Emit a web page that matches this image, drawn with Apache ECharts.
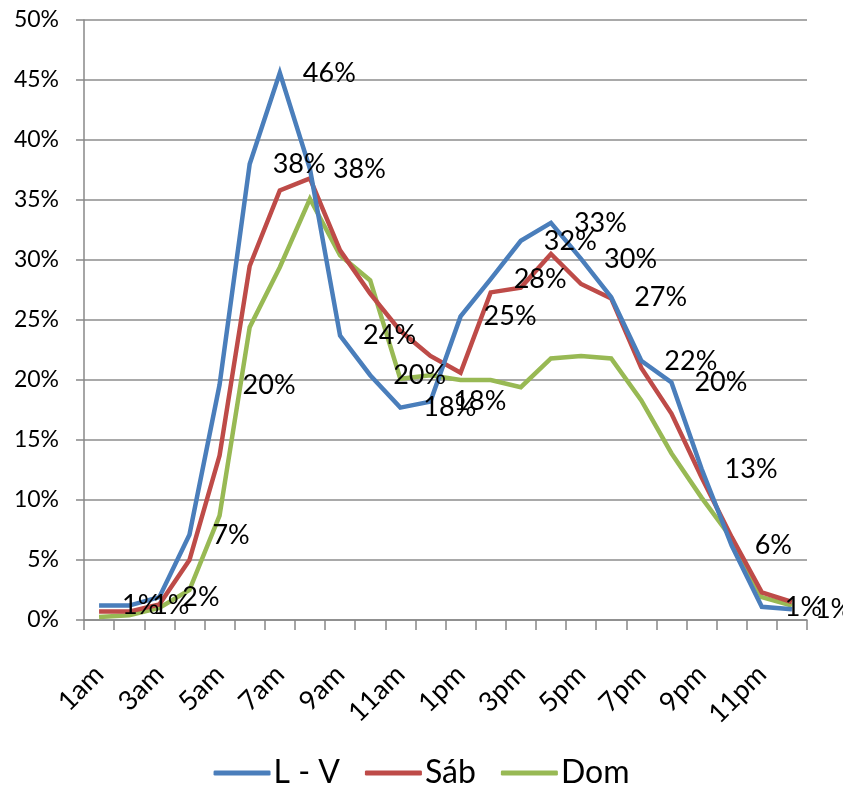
<!DOCTYPE html>
<html>
<head>
<meta charset="utf-8">
<script src="https://cdn.jsdelivr.net/npm/echarts@6/dist/echarts.min.js"></script>
<style>
  html, body { margin: 0; padding: 0; background: #fff; }
  #chart { width: 843px; height: 787px; }
</style>
</head>
<body>
<div id="chart"></div>
<script>
// horas del día
const hours = ["1am", "2am", "3am", "4am", "5am", "6am", "7am", "8am", "9am", "10am", "11am", "12pm",
  "1pm", "2pm", "3pm", "4pm", "5pm", "6pm", "7pm", "8pm", "9pm", "10pm", "11pm", "12am"];
const seriesNames = ["L - V", "Sáb", "Dom"];
// valores en %
const lunesViernes = [1.2, 1.2, 1.9, 7.1, 19.6, 38.0, 45.6, 37.6, 23.7, 20.4, 17.7, 18.2,
  25.3, 28.4, 31.6, 33.1, 30.1, 26.9, 21.6, 19.8, 12.6, 6.2, 1.1, 0.9];
const sabado = [0.7, 0.7, 1.3, 5.0, 13.7, 29.5, 35.8, 36.8, 30.8, 27.2, 24.1, 22.0,
  20.6, 27.3, 27.7, 30.5, 28.0, 26.8, 21.0, 17.2, 11.9, 6.9, 2.3, 1.5];
const domingo = [0.25, 0.4, 1.0, 2.5, 8.7, 24.4, 29.4, 35.1, 30.4, 28.3, 20.1, 20.4,
  20.0, 20.0, 19.4, 21.8, 22.0, 21.8, 18.3, 13.9, 10.2, 6.8, 1.9, 1.2];

const colors = ["#4A7EBB", "#BE4B48", "#98B954"];
const font = "Lato, 'DejaVu Sans', sans-serif";

var myChart = echarts.init(document.getElementById("chart"));

const makeLine = (name, data, idx, withLabel) => {
  return {
    name: name,
    type: "line",
    data: data,
    symbol: "circle",
    symbolSize: 0,
    showSymbol: true,
    lineStyle: { color: colors[idx], width: 4.5, join: "miter" },
    itemStyle: { color: colors[idx] },
    label: {
      show: withLabel,
      position: "right",
      distance: 23,
      color: "#000",
      fontFamily: font,
      fontSize: 27,
      formatter: (p) => Math.round(p.value) + "%",
    },
    z: 10 - idx,
  };
};

var option = {
  animation: false,
  color: colors,
  grid: { left: 84, right: 36, top: 20, bottom: 167, outerBoundsMode: "none" },
  legend: {
    left: "center",
    top: 752,
    icon: "roundRect",
    itemWidth: 57,
    itemHeight: 5,
    itemGap: 25,
    textStyle: { fontFamily: font, fontSize: 32, color: "#000", padding: [0, 0, 0, -2] },
    data: seriesNames,
  },
  xAxis: {
    type: "category",
    data: hours,
    boundaryGap: true,
    axisLine: { lineStyle: { color: "#888", width: 1.5 } },
    axisTick: { show: true, length: 10, interval: 0, lineStyle: { color: "#888", width: 1.5 } },
    axisLabel: {
      show: true,
      interval: 1,
      rotate: 45,
      margin: 50,
      color: "#000",
      fontFamily: font,
      fontSize: 27,
    },
    splitLine: { show: false },
  },
  yAxis: {
    type: "value",
    min: 0,
    max: 50,
    interval: 5,
    axisLine: { show: true, lineStyle: { color: "#888", width: 1.5 } },
    axisTick: { show: true, length: 8, lineStyle: { color: "#888", width: 1.5 } },
    axisLabel: {
      formatter: "{value}%",
      margin: 25,
      color: "#000",
      fontFamily: font,
      fontSize: 23,
    },
    splitLine: { lineStyle: { color: "#8c8c8c", width: 1.5 } },
  },
  series: [
    makeLine(seriesNames[0], lunesViernes, 0, true),
    makeLine(seriesNames[1], sabado, 1, false),
    makeLine(seriesNames[2], domingo, 2, false),
  ],
};

myChart.setOption(option);
window.addEventListener("resize", function () {
  myChart.resize();
});
</script>
</body>
</html>
